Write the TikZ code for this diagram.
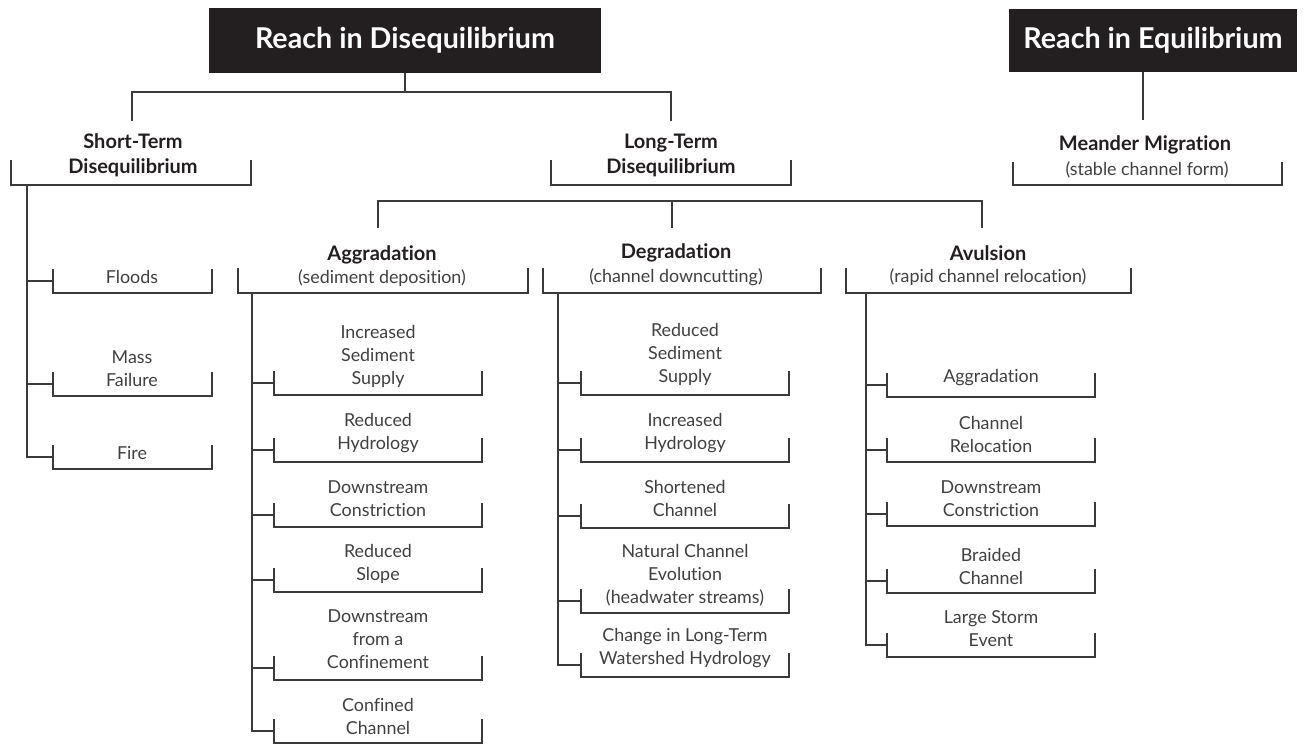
\documentclass[tikz,border=0pt]{standalone}
\usepackage{fontspec}
\setmainfont{Lato}[Ligatures=NoCommon]
\definecolor{boxblack}{HTML}{231F20}
\definecolor{linecol}{HTML}{3A3A3A}
\definecolor{txtcol}{HTML}{404040}
\tikzset{
  ln/.style={draw=linecol, line width=1.05pt},
  titlebox/.style={fill=boxblack, text=white, inner sep=0pt, font=\bfseries\fontsize{21.5}{24}\selectfont},
  grp/.style={align=center, inner sep=0pt, text=boxblack, font=\bfseries\fontsize{15}{18.75}\selectfont},
  sub/.style={align=center, inner sep=0pt, text=txtcol, font=\fontsize{13.4}{17.25}\selectfont},
  itm/.style={align=center, inner sep=0pt, text=txtcol, font=\fontsize{13.4}{17.25}\selectfont},
}
% name, cx, cy, left, right, bottom, text
\newcommand\brItem[7]{%
  \node[itm] (#1) at (#2,#3) {#7};
  \coordinate (#1-tl) at (#4,#6-24);
  \coordinate (#1-bl) at (#4,#6);
  \coordinate (#1-br) at (#5,#6);
  \coordinate (#1-tr) at (#5,#6-24);
  \coordinate (#1-c) at (#4,#6-12);
  \draw[ln] (#1-tl) -- (#1-bl) -- (#1-br) -- (#1-tr);
}
% name, left, right, top, bottom
\newcommand\brGroup[5]{%
  \coordinate (#1-tl) at (#2,#4);
  \coordinate (#1-bl) at (#2,#5);
  \coordinate (#1-br) at (#3,#5);
  \coordinate (#1-tr) at (#3,#4);
  \draw[ln] (#1-tl) -- (#1-bl) -- (#1-br) -- (#1-tr);
}
\begin{document}
\begin{tikzpicture}[x=0.75pt,y=-0.75pt]
\useasboundingbox (0,0) rectangle (1307,745);

% title boxes
\node[titlebox, minimum width=294pt, minimum height=48.75pt] (rd) at (405,40.5) {Reach in Disequilibrium};
\node[titlebox, minimum width=216pt, minimum height=47.25pt] (re) at (1153,40.5) {Reach in Equilibrium};

% level 2
\node[grp] (st) at (133,155.5) {Short-Term\\Disequilibrium};
\brGroup{stb}{11}{251}{160}{185}
\node[grp] (lt) at (671,155.5) {Long-Term\\Disequilibrium};
\brGroup{ltb}{551}{791}{160}{185}
\node[grp] (mm) at (1145,145) {Meander Migration};
\node[sub] (mms) at (1147,170) {(stable channel form)};
\brGroup{mmb}{1013}{1282}{162}{185}

% connectors top
\coordinate (rdj) at (405,92);
\coordinate (stj) at (132,92);
\coordinate (ltj) at (671,92);
\coordinate (stt) at (132,121);
\coordinate (ltt) at (671,121);
\draw[ln] (rd.south) -- (rdj);
\draw[ln] (stt) -- (stj) -- (ltj) -- (ltt);
\coordinate (ret) at (1143,120);
\draw[ln] (re.south -| ret) -- (ret);

% level 3
\node[grp] (ag) at (382,255) {Aggradation};
\node[sub] (ags) at (382,278) {(sediment deposition)};
\brGroup{agb}{238}{528}{268}{293}
\node[grp] (dg) at (676,253) {Degradation};
\node[sub] (dgs) at (676,277) {(channel downcutting)};
\brGroup{dgb}{543}{821}{268}{293}
\node[grp] (av) at (988,253) {Avulsion};
\node[sub] (avs) at (988,277) {(rapid channel relocation)};
\brGroup{avb}{846}{1131}{268}{293}

\coordinate (l3a) at (378,201);
\coordinate (l3b) at (672,201);
\coordinate (l3c) at (982,201);
\coordinate (l3at) at (378,228);
\coordinate (l3bt) at (672,228);
\coordinate (l3ct) at (982,228);
\draw[ln] (l3at) -- (l3a) -- (l3c) -- (l3ct);
\draw[ln] (l3b) -- (l3bt);

% short-term items
\brItem{fl}{132}{277}{53}{212}{293}{Floods}
\brItem{mf}{132}{368.5}{53}{212}{396}{Mass\\Failure}
\brItem{fi}{132}{453}{53}{212}{469}{Fire}
\coordinate (stk) at (27,185);
\draw[ln] (stk) -- (stk |- fi-c) -- (fi-c);
\draw[ln] (stk |- fl-c) -- (fl-c);
\draw[ln] (stk |- mf-c) -- (mf-c);

% aggradation items
\brItem{a1}{378}{356}{274}{482}{395}{Increased\\Sediment\\Supply}
\brItem{a2}{378}{433.5}{274}{482}{462}{Reduced\\Hydrology}
\brItem{a3}{378}{498.5}{274}{482}{527}{Downstream\\Constriction}
\brItem{a4}{378}{563.5}{274}{482}{592}{Reduced\\Slope}
\brItem{a5}{378}{639}{274}{482}{680}{Downstream\\from a\\Confinement}
\brItem{a6}{378}{716.5}{274}{482}{743}{Confined\\Channel}
\coordinate (agk) at (252,293);
\draw[ln] (agk) -- (agk |- a6-c) -- (a6-c);
\foreach \i in {a1,a2,a3,a4,a5} \draw[ln] (agk |- \i-c) -- (\i-c);

% degradation items
\brItem{d1}{685}{354.5}{581}{789}{395}{Reduced\\Sediment\\Supply}
\brItem{d2}{685}{433.5}{581}{789}{462}{Increased\\Hydrology}
\brItem{d3}{685}{498.5}{581}{789}{528}{Shortened\\Channel}
\brItem{d4}{685}{575}{581}{789}{613}{Natural Channel\\Evolution\\(headwater streams)}
\brItem{d5}{685}{648.5}{581}{789}{677}{Change in Long-Term\\Watershed Hydrology}
\coordinate (dgk) at (558,293);
\draw[ln] (dgk) -- (dgk |- d5-c) -- (d5-c);
\foreach \i in {d1,d2,d3,d4} \draw[ln] (dgk |- \i-c) -- (\i-c);

% avulsion items
\brItem{v1}{991}{378}{887}{1095}{397}{Aggradation}
\brItem{v2}{991}{434.5}{887}{1095}{462}{Channel\\Relocation}
\brItem{v3}{991}{498.5}{887}{1095}{526}{Downstream\\Constriction}
\brItem{v4}{991}{566.5}{887}{1095}{593}{Braided\\Channel}
\brItem{v5}{991}{628.5}{887}{1095}{657}{Large Storm\\Event}
\coordinate (avk) at (866,293);
\draw[ln] (avk) -- (avk |- v5-c) -- (v5-c);
\foreach \i in {v1,v2,v3,v4} \draw[ln] (avk |- \i-c) -- (\i-c);
\end{tikzpicture}
\end{document}
